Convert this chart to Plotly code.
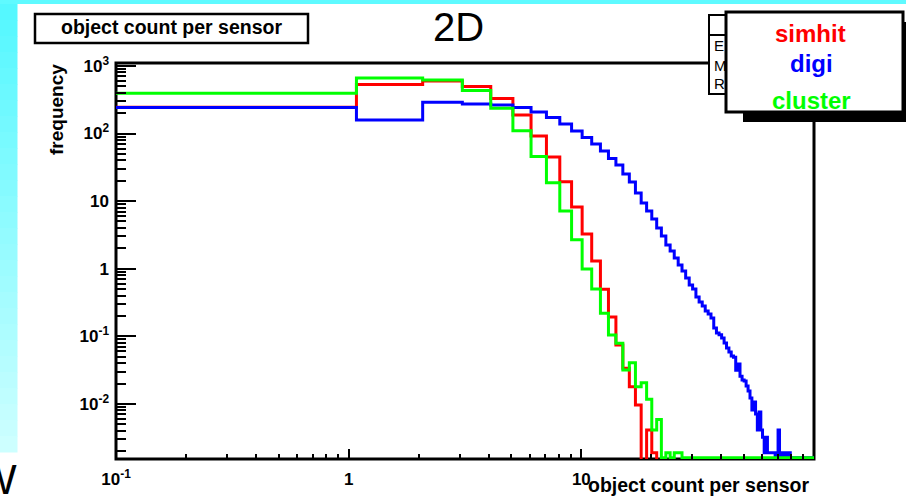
import numpy as np
import plotly.graph_objects as go

# ---------------- data ----------------
# integer bins k = 0,1,2,... ; low edge of bin k is k + BIN_OFFSET
BIN_OFFSET = 0.08
N_BINS = 100

simhit = [244, 531, 598, 495, 330, 188, 91.8, 44.9, 19.4, 8.19, 3.26, 1.30, 0.495,
          0.193, 0.0745, 0.0336, 0.018, 0.0096, 0, 0.0041, 0.0019]

digi = [242, 158, 290, 273, 264, 243, 208, 172, 138, 109, 87.3, 70, 55.1, 42.7, 34.2,
        25.2, 19.2, 13.2, 9.37, 7.14, 5.44, 4.00, 3.05, 2.24, 1.83, 1.44, 1.13, 0.925,
        0.728, 0.574, 0.501, 0.381, 0.321, 0.281, 0.237, 0.214, 0.187, 0.133, 0.112,
        0.105, 0.0944, 0.0796, 0.0671, 0.0585, 0.051, 0.049, 0.0316, 0.0389, 0.0257,
        0.0226, 0.0218, 0.0184, 0.0155, 0.0122, 0.0081, 0.0107, 0.0071, 0.0041, 0.0076,
        0.0041, 0.0032, 0.0019, 0.0032, 0.0019, 0.0019, 0.0019, 0.0019, 0.0019, 0,
        0.0019, 0.0041, 0, 0.0019, 0, 0.0019, 0, 0.0019, 0, 0.0019]

cluster = [393, 660, 620, 433, 236, 110, 45.7, 18.7, 7.14, 2.69, 0.99, 0.50, 0.219,
           0.1045, 0.0787, 0.0317, 0.0407, 0.0179, 0.0206, 0.0117, 0.0041, 0.0059, 0,
           0.0019, 0, 0.0019, 0.0019]

series_names = ["simhit", "digi", "cluster"]
series_colors = ["#ff0000", "#0000ff", "#00ff00"]

x_tickvals = [0.1, 1, 10, 100]
x_ticktext = ["10<sup>-1</sup>", "1", "10", ""]
y_tickvals = [0.01, 0.1, 1, 10, 100, 1000]
y_ticktext = ["10<sup>-2</sup>", "10<sup>-1</sup>", "1", "10", "10<sup>2</sup>", "10<sup>3</sup>"]

# ---------------- geometry ----------------
W, H = 906, 502
L, R, T, B = 116, 92, 63, 43
PW, PH = W - L - R, H - T - B
XR = [-1, 2]
YR = [-2.815, 3.043]

def pxx(px):
    return (px - L) / PW

def pxy(py):
    return (H - B - py) / PH

FONT = "Liberation Sans"

edges = np.arange(N_BINS + 1) + BIN_OFFSET
bottom_floor = 10 ** (YR[0] + 0.02)   # zero bins drawn on the frame bottom
clip_floor = 1e-6                      # zero bins drawn below the frame

def step_trace(vals, color, zero_val):
    v = np.zeros(N_BINS)
    v[:len(vals)] = vals
    v = np.where(v > 0, v, zero_val)
    xs = list(edges)
    ys = list(v) + [v[-1]]
    return go.Scatter(x=xs, y=ys, mode="lines", line=dict(color=color, width=3, shape="hv"),
                      hoverinfo="skip", showlegend=False)

fig = go.Figure()
fig.add_trace(step_trace(simhit, series_colors[0], clip_floor))
fig.add_trace(step_trace(digi, series_colors[1], bottom_floor))
fig.add_trace(step_trace(cluster, series_colors[2], bottom_floor))

x_minor = [m * 10.0 ** e for e in range(-1, 2) for m in range(2, 10)]
y_minor = [m * 10.0 ** e for e in range(-3, 3) for m in range(2, 10)
           if YR[0] <= np.log10(m * 10.0 ** e) <= YR[1]]

tickfont = dict(family=FONT, size=17, color="black", weight="bold")
fig.update_xaxes(type="log", range=XR, tickmode="array", tickvals=x_tickvals, ticktext=x_ticktext,
                 ticks="inside", ticklen=10, tickwidth=2, tickcolor="black",
                 minor=dict(tickmode="array", tickvals=x_minor, ticks="inside", ticklen=5,
                            tickwidth=2, tickcolor="black", showgrid=False),
                 showgrid=False, zeroline=False, showline=False, tickfont=tickfont,
                 ticklabelstandoff=8)
fig.update_yaxes(type="log", range=YR, tickmode="array", tickvals=y_tickvals, ticktext=y_ticktext,
                 ticks="inside", ticklen=20, tickwidth=2, tickcolor="black",
                 minor=dict(tickmode="array", tickvals=y_minor, ticks="inside", ticklen=10,
                            tickwidth=2, tickcolor="black", showgrid=False),
                 showgrid=False, zeroline=False, showline=False, tickfont=tickfont,
                 ticklabelstandoff=6)

shapes = []
# slide background strips
shapes.append(dict(type="rect", xref="paper", yref="paper", x0=pxx(-2), x1=pxx(W + 2),
                   y0=pxy(4), y1=pxy(-2), fillcolor="rgb(95,250,255)", line_width=0, layer="below"))
nseg = 28
y_top, y_bot = 4, 452
for i in range(nseg):
    t = i / (nseg - 1)
    r = int(85 + (205 - 85) * t)
    g = int(248 + (255 - 248) * t)
    ya = y_top + (y_bot - y_top) * i / nseg
    yb = y_top + (y_bot - y_top) * (i + 1) / nseg
    shapes.append(dict(type="rect", xref="paper", yref="paper", x0=pxx(-2), x1=pxx(17.5),
                       y0=pxy(yb + 0.5), y1=pxy(ya), fillcolor=f"rgb({r},{g},255)",
                       line_width=0, layer="below"))
# frame
shapes.append(dict(type="rect", xref="paper", yref="paper", x0=0, x1=1, y0=0, y1=1,
                   line=dict(color="black", width=3), layer="below"))
# title box
shapes.append(dict(type="rect", xref="paper", yref="paper", x0=pxx(35), x1=pxx(308),
                   y0=pxy(43), y1=pxy(14), line=dict(color="black", width=2.5),
                   fillcolor="white", layer="above"))
# stats box (mostly hidden)
shapes.append(dict(type="rect", xref="paper", yref="paper", x0=pxx(709), x1=pxx(890),
                   y0=pxy(94), y1=pxy(15), line=dict(color="black", width=2),
                   fillcolor="white", layer="above"))
shapes.append(dict(type="line", xref="paper", yref="paper", x0=pxx(709), x1=pxx(890),
                   y0=pxy(35), y1=pxy(35), line=dict(color="black", width=2), layer="above"))
# legend shadow + box
shapes.append(dict(type="rect", xref="paper", yref="paper", x0=pxx(743), x1=pxx(912),
                   y0=pxy(122), y1=pxy(22), line_width=0, fillcolor="black", layer="above"))
shapes.append(dict(type="rect", xref="paper", yref="paper", x0=pxx(726), x1=pxx(903),
                   y0=pxy(112), y1=pxy(12), line=dict(color="black", width=3),
                   fillcolor="white", layer="above"))

ann = []
def text(s, px, py, size, color="black", weight="bold", xanchor="center", angle=0, family=FONT):
    ann.append(dict(text=s, x=pxx(px), y=pxy(py), xref="paper", yref="paper", showarrow=False,
                    xanchor=xanchor, yanchor="middle", textangle=angle,
                    font=dict(family=family, size=size, color=color, weight=weight)))

text("object count per sensor", 171, 27, 19.5)
text("2D", 458, 27, 40, weight="normal")
text("object count per sensor", 811, 485, 19.5, xanchor="right")
text("frequency", 56, 110, 19, angle=-90)
text("E", 712, 45, 15, weight="normal", xanchor="left")
text("M", 712, 65, 15, weight="normal", xanchor="left")
text("R", 712, 84, 15, weight="normal", xanchor="left")
text(series_names[0], 810, 34, 24, color=series_colors[0])
text(series_names[1], 811, 63, 24, color=series_colors[1])
text(series_names[2], 811, 100, 24, color=series_colors[2])
text("W", 19, 479, 42, weight="normal", xanchor="right")

fig.update_layout(width=W, height=H, margin=dict(l=L, r=R, t=T, b=B, pad=0),
                  paper_bgcolor="white", plot_bgcolor="white", shapes=shapes, annotations=ann,
                  showlegend=False)

fig.write_html("out.html", config={"displayModeBar": False},
               post_script="document.body.style.margin='0';document.body.style.overflow='hidden';")
